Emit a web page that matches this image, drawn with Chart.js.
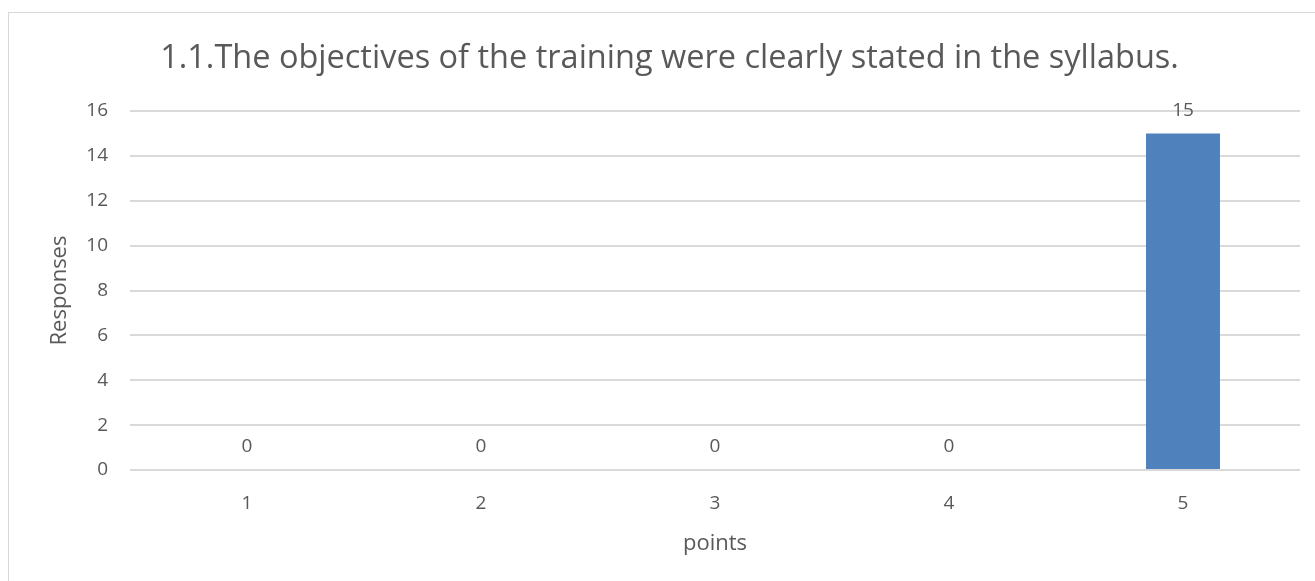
<!DOCTYPE html>
<html>
<head>
<meta charset="utf-8">
<script src="https://cdn.jsdelivr.net/npm/chart.js@4.4.1/dist/chart.umd.min.js"></script>
<style>
    html, body { margin: 0; padding: 0; background: #fff; overflow: hidden; }
    #frame {
        position: absolute; left: 8px; top: 12px;
        width: 1320px; height: 590px;
        border: 1px solid #d9d9d9; box-sizing: border-box;
    }
    #wrap { position: absolute; left: 0; top: 0; width: 1315px; height: 581px; }
</style>
</head>
<body>
<div id="frame"></div>
<div id="wrap"><canvas id="chart"></canvas></div>
<script>
/* ── Data ────────────────────────────────────────────────────── */
const TITLE      = '1.1.The objectives of the training were clearly stated in the syllabus.';
const CATEGORIES = ['1', '2', '3', '4', '5'];
const RESPONSES  = [0, 0, 0, 0, 15];
const Y_MIN = 0, Y_MAX = 16, Y_STEP = 2;

const FONT  = "'Open Sans', 'DejaVu Sans', sans-serif";
const GREY  = '#595959';

/* ── Value labels above each bar ─────────────────────────────── */
const valueLabels = {
    id: 'valueLabels',
    afterDatasetsDraw(chart) {
        const { ctx } = chart;
        const meta = chart.getDatasetMeta(0);
        ctx.save();
        ctx.font = `19px ${FONT}`;
        ctx.fillStyle = GREY;
        ctx.textAlign = 'center';
        ctx.textBaseline = 'middle';
        meta.data.forEach((bar, i) => {
            ctx.fillText(String(RESPONSES[i]), bar.x, bar.y - 23);
        });
        ctx.restore();
    },
};

new Chart(document.getElementById('chart'), {
    type: 'bar',
    data: {
        labels: CATEGORIES,
        datasets: [{
            data: RESPONSES,
            backgroundColor: '#4f81bd',
            barPercentage: 0.316,
            categoryPercentage: 1,
        }],
    },
    options: {
        responsive: true,
        maintainAspectRatio: false,
        animation: false,
        layout: { padding: { left: 39, right: 15, top: 0, bottom: 0 } },
        plugins: {
            legend: { display: false },
            tooltip: { enabled: false },
            title: {
                display: true,
                text: TITLE,
                color: GREY,
                font: { family: FONT, size: 32.5, weight: 'normal' },
                padding: { top: 39, bottom: 33 },
            },
        },
        scales: {
            x: {
                afterFit(scale) { scale.height = 111; },
                grid: { display: false },
                border: { display: false },
                ticks: { color: GREY, font: { family: FONT, size: 19 }, padding: 14 },
                title: {
                    display: true, text: 'points', color: GREY,
                    font: { family: FONT, size: 22 }, padding: { top: 0, bottom: 24 },
                },
            },
            y: {
                min: Y_MIN, max: Y_MAX,
                afterFit(scale) { scale.width = 91; },
                grid: { color: '#d9d9d9', lineWidth: 2, drawTicks: false },
                border: { display: false },
                ticks: { stepSize: Y_STEP, color: GREY, font: { family: FONT, size: 19 }, padding: 22 },
                title: {
                    display: true, text: 'Responses', color: GREY,
                    font: { family: FONT, size: 22 }, padding: { top: 8, bottom: 0 },
                },
            },
        },
    },
    plugins: [valueLabels],
});
</script>
</body>
</html>
